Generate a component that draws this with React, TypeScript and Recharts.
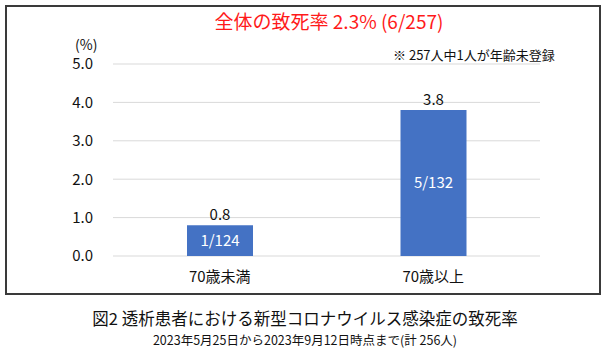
import React from "react";
import { BarChart, Bar, XAxis, YAxis, CartesianGrid, LabelList } from "recharts";

const categories = ["70歳未満", "70歳以上"];
const rates = [0.8, 3.8];
const counts = ["1/124", "5/132"];
const yTicks = [0, 1, 2, 3, 4, 5];

const data = categories.map((c, i) => ({ name: c, rate: rates[i], count: counts[i] }));

const FONT = "'Noto Sans CJK JP', sans-serif";

export default function App() {
  return (
    <div style={{ position: "absolute", left: 0, top: 0, width: 610, height: 353, background: "#fff", fontFamily: FONT }}>
      <div style={{ position: "absolute", left: 5, top: 5, width: 592, height: 286, border: "2px solid #3a3a3a" }} />
      <div style={{ position: "absolute", left: 0, top: 0 }}>
        <BarChart width={610} height={300} data={data} margin={{ top: 64, right: 70, left: 53, bottom: 14 }}>
          <CartesianGrid vertical={false} stroke="#d9d9d9" />
          <XAxis
            dataKey="name"
            axisLine={false}
            tickLine={false}
            height={30}
            tickMargin={9}
            tick={{ fill: "#111", fontSize: 15, fontFamily: FONT }}
          />
          <YAxis
            domain={[0, 5]}
            ticks={yTicks}
            axisLine={false}
            tickLine={false}
            width={60}
            tickMargin={14}
            tickFormatter={(v: number) => v.toFixed(1)}
            tick={{ fill: "#111", fontSize: 15, fontFamily: FONT }}
          />
          <Bar dataKey="rate" fill="#4472C4" barSize={66} isAnimationActive={false}>
            <LabelList dataKey="rate" position="top" formatter={(v: number) => v.toFixed(1)} fill="#111" fontSize={15} fontFamily={FONT} />
            <LabelList dataKey="count" position="center" fill="#fff" fontSize={15} fontFamily={FONT} />
          </Bar>
        </BarChart>
      </div>
      <div style={{ position: "absolute", left: 0, width: 610, top: 8, textAlign: "center", paddingLeft: 48, boxSizing: "border-box", color: "#ff1a1a", fontSize: 19, lineHeight: "26px", whiteSpace: "nowrap" }}>
        全体の致死率 2.3% (6/257)
      </div>
      <div style={{ position: "absolute", left: 75, top: 35, color: "#111", fontSize: 14, lineHeight: "18px" }}>(%)</div>
      <div style={{ position: "absolute", left: 393, top: 46, color: "#111", fontSize: 13, lineHeight: "18px", whiteSpace: "nowrap" }}>
        ※ 257人中1人が年齢未登録
      </div>
      <div style={{ position: "absolute", left: 0, width: 610, top: 310, textAlign: "center", color: "#111", fontSize: 16.5, lineHeight: "16px", whiteSpace: "nowrap" }}>
        図2 透析患者における新型コロナウイルス感染症の致死率
      </div>
      <div style={{ position: "absolute", left: 0, width: 610, top: 333, textAlign: "center", color: "#111", fontSize: 12.5, lineHeight: "13px", whiteSpace: "nowrap" }}>
        2023年5月25日から2023年9月12日時点まで(計 256人)
      </div>
    </div>
  );
}
